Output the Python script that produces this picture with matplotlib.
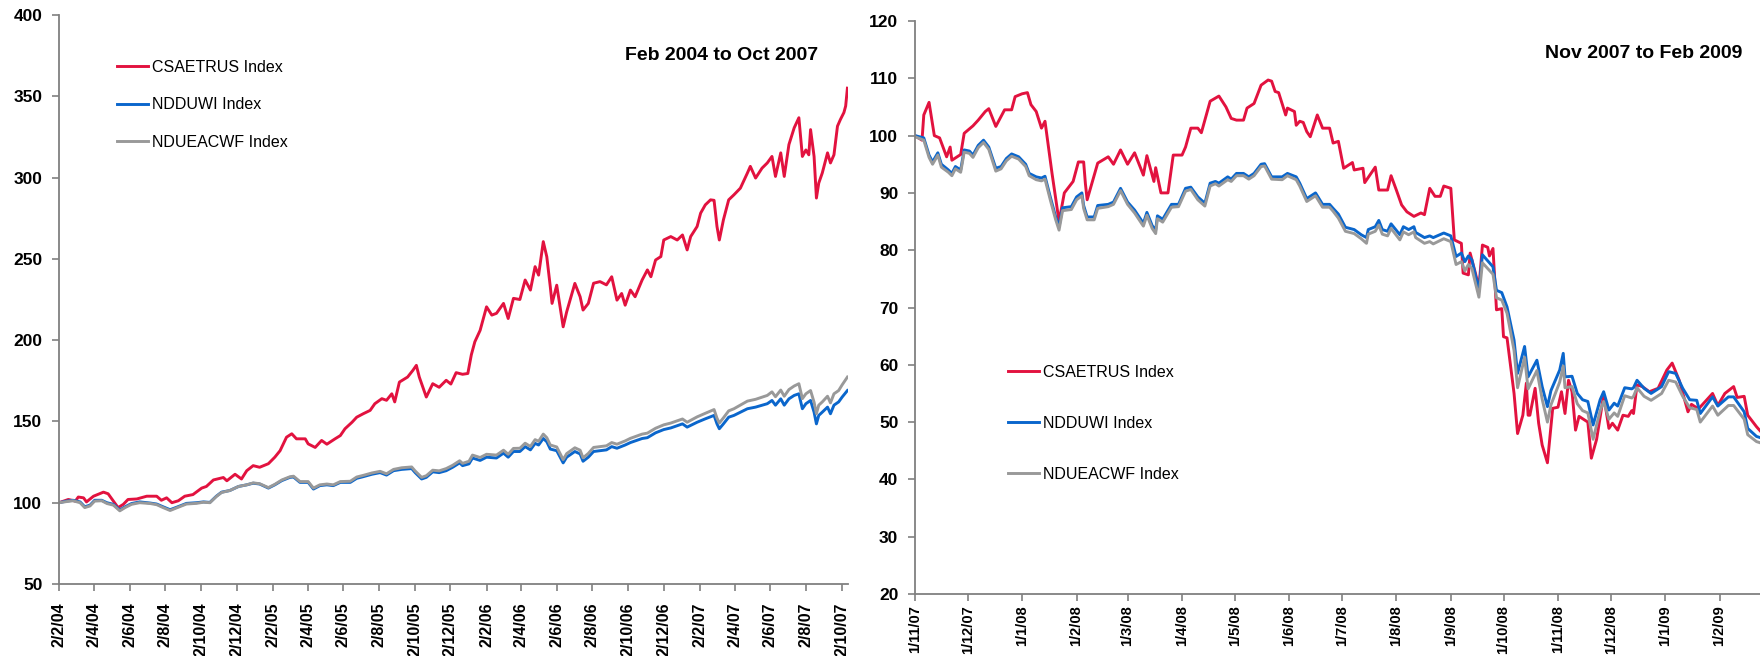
import matplotlib
matplotlib.use("Agg")
import matplotlib.pyplot as plt
import pandas as pd

plt.rcParams['font.family'] = ['Liberation Sans', 'DejaVu Sans']

# ---------------- data ----------------
series_names = ["CSAETRUS Index", "NDDUWI Index", "NDUEACWF Index"]
colors = ["#E2123F", "#0A66CC", "#999999"]

left_title = "Feb 2004 to Oct 2007"
right_title = "Nov 2007 to Feb 2009"

left_tick_labels = ["2/2/04", "2/4/04", "2/6/04", "2/8/04", "2/10/04", "2/12/04",
                    "2/2/05", "2/4/05", "2/6/05", "2/8/05", "2/10/05", "2/12/05",
                    "2/2/06", "2/4/06", "2/6/06", "2/8/06", "2/10/06", "2/12/06",
                    "2/2/07", "2/4/07", "2/6/07", "2/8/07", "2/10/07"]
right_tick_labels = ["1/11/07", "1/12/07", "1/1/08", "1/2/08", "1/3/08", "1/4/08",
                     "1/5/08", "1/6/08", "1/7/08", "1/8/08", "1/9/08", "1/10/08",
                     "1/11/08", "1/12/08", "1/1/09", "1/2/09"]
left_yticks = [50, 100, 150, 200, 250, 300, 350, 400]
right_yticks = [20, 30, 40, 50, 60, 70, 80, 90, 100, 110, 120]

# Left panel: CSAETRUS
left_red_dates = [
    "2004-02-02", "2004-02-18", "2004-03-01", "2004-03-06", "2004-03-15", "2004-03-20",
    "2004-04-01", "2004-04-18", "2004-04-26", "2004-05-05", "2004-05-13", "2004-05-22",
    "2004-05-30", "2004-06-14", "2004-07-01", "2004-07-18", "2004-07-26", "2004-08-04",
    "2004-08-13", "2004-08-24", "2004-09-04", "2004-09-18", "2004-10-03", "2004-10-11",
    "2004-10-23", "2004-11-09", "2004-11-15", "2004-11-29", "2004-12-10", "2004-12-19",
    "2004-12-30", "2005-01-10", "2005-01-25", "2005-02-05", "2005-02-14", "2005-02-25",
    "2005-03-06", "2005-03-14", "2005-03-29", "2005-04-03", "2005-04-15", "2005-04-26",
    "2005-05-05", "2005-05-19", "2005-05-28", "2005-06-05", "2005-06-17", "2005-06-25",
    "2005-07-06", "2005-07-18", "2005-07-26", "2005-08-07", "2005-08-15", "2005-08-24",
    "2005-08-29", "2005-09-06", "2005-09-20", "2005-09-29", "2005-10-05", "2005-10-10",
    "2005-10-22", "2005-11-02", "2005-11-13", "2005-11-25", "2005-12-03", "2005-12-12",
    "2005-12-23", "2006-01-01", "2006-01-07", "2006-01-13", "2006-01-22", "2006-02-02",
    "2006-02-11", "2006-02-19", "2006-03-03", "2006-03-11", "2006-03-20", "2006-03-31",
    "2006-04-09", "2006-04-18", "2006-04-26", "2006-05-02", "2006-05-10", "2006-05-16",
    "2006-05-22", "2006-05-25", "2006-06-02", "2006-06-13", "2006-06-19", "2006-07-03",
    "2006-07-12", "2006-07-17", "2006-07-26", "2006-08-04", "2006-08-15", "2006-08-26",
    "2006-09-04", "2006-09-13", "2006-09-21", "2006-09-27", "2006-10-06", "2006-10-14",
    "2006-10-26", "2006-11-04", "2006-11-10", "2006-11-18", "2006-11-27", "2006-12-02",
    "2006-12-14", "2006-12-25", "2007-01-03", "2007-01-11", "2007-01-17", "2007-01-28",
    "2007-02-03", "2007-02-11", "2007-02-20", "2007-02-26", "2007-03-03", "2007-03-07",
    "2007-03-14", "2007-03-23", "2007-04-01", "2007-04-12", "2007-04-24", "2007-04-29",
    "2007-05-08", "2007-05-19", "2007-05-28", "2007-06-05", "2007-06-11", "2007-06-20",
    "2007-06-26", "2007-07-04", "2007-07-13", "2007-07-21", "2007-07-27", "2007-08-02",
    "2007-08-07", "2007-08-10", "2007-08-16", "2007-08-20", "2007-08-24", "2007-08-30",
    "2007-09-08", "2007-09-13", "2007-09-19", "2007-09-25", "2007-09-30", "2007-10-06",
    "2007-10-09", "2007-10-12"]
left_red_values = [
    100, 102, 101, 103.5, 103, 100.5,
    104, 106.5, 105.5, 101, 97, 99,
    102, 102.3, 104, 104, 101.5, 103,
    100, 101.2, 104, 105, 109, 110,
    114, 115.5, 113.5, 117.5, 114.6, 119.7,
    122.8, 121.8, 124, 128, 132, 140.3,
    142.4, 139.3, 139.3, 136.2, 134, 138.3,
    136, 139.3, 141.3, 145.5, 149.5, 152.6,
    154.7, 156.8, 160.9, 164, 163, 167,
    162, 174.2, 177.3, 181.4, 184.5, 177.3,
    165, 173.2, 171, 175.3, 173, 180,
    179, 179.5, 191, 199, 206, 220.5,
    215.4, 216.5, 222.6, 213.3, 225.7, 225,
    237, 230.8, 245.2, 240, 260.6, 251.3,
    232.8, 222.6, 233.8, 208.2, 217.4, 234.9,
    226.7, 218.5, 222.6, 235, 236, 234,
    239, 224.6, 228.7, 221.5, 230.8, 226.7,
    237, 243.2, 239, 249.3, 251.4, 261.6,
    263.7, 261.6, 264.7, 255.5, 263.7, 269.9,
    278.1, 283.2, 286.3, 286, 269.9, 261.6,
    274, 286.3, 289.4, 293.5, 302.8, 306.9,
    299.7, 305.8, 309, 313, 300.7, 315.2,
    300.7, 320.3, 330.6, 336.8, 313, 317,
    314, 329.5, 313, 287.4, 296.6, 302.8,
    315.2, 309, 314, 331.6, 335.7, 340,
    344, 355]

# Left panel: NDDUWI and NDUEACWF (shared dates)
left_msci_dates = [
    "2004-02-02", "2004-02-15", "2004-02-26", "2004-03-09", "2004-03-17", "2004-03-26",
    "2004-04-03", "2004-04-15", "2004-04-24", "2004-05-05", "2004-05-16", "2004-05-25",
    "2004-06-05", "2004-06-19", "2004-07-07", "2004-07-18", "2004-07-29", "2004-08-10",
    "2004-08-21", "2004-09-07", "2004-09-24", "2004-10-06", "2004-10-17", "2004-10-28",
    "2004-11-06", "2004-11-20", "2004-12-05", "2004-12-19", "2004-12-30", "2005-01-10",
    "2005-01-25", "2005-02-05", "2005-02-17", "2005-03-03", "2005-03-09", "2005-03-20",
    "2005-04-03", "2005-04-12", "2005-04-23", "2005-05-05", "2005-05-16", "2005-05-28",
    "2005-06-14", "2005-06-25", "2005-07-06", "2005-07-21", "2005-08-04", "2005-08-15",
    "2005-08-27", "2005-09-10", "2005-09-27", "2005-10-03", "2005-10-14", "2005-10-22",
    "2005-11-02", "2005-11-13", "2005-11-25", "2005-12-06", "2005-12-18", "2005-12-23",
    "2006-01-03", "2006-01-09", "2006-01-22", "2006-02-02", "2006-02-19", "2006-03-03",
    "2006-03-11", "2006-03-20", "2006-03-31", "2006-04-09", "2006-04-18", "2006-04-26",
    "2006-05-02", "2006-05-10", "2006-05-16", "2006-05-22", "2006-06-02", "2006-06-13",
    "2006-06-19", "2006-07-03", "2006-07-12", "2006-07-17", "2006-07-26", "2006-08-04",
    "2006-08-26", "2006-09-04", "2006-09-13", "2006-09-27", "2006-10-06", "2006-10-26",
    "2006-11-04", "2006-11-18", "2006-12-02", "2006-12-14", "2007-01-03", "2007-01-11",
    "2007-01-28", "2007-02-11", "2007-02-26", "2007-03-03", "2007-03-07", "2007-03-14",
    "2007-03-23", "2007-04-01", "2007-04-24", "2007-05-08", "2007-05-28", "2007-06-05",
    "2007-06-11", "2007-06-20", "2007-06-26", "2007-07-04", "2007-07-13", "2007-07-21",
    "2007-07-27", "2007-08-02", "2007-08-10", "2007-08-16", "2007-08-20", "2007-08-24",
    "2007-08-30", "2007-09-08", "2007-09-13", "2007-09-19", "2007-09-27", "2007-10-03",
    "2007-10-12"]
left_blue_values = [
    100, 101, 101.5, 100.5, 97.5, 98.5,
    101.5, 101.5, 100, 99, 95.5, 97.5,
    99.5, 100.5, 99.8, 99.2, 97.5, 95.7,
    97.2, 99.6, 100, 100.5, 100.2, 104,
    106.5, 107.5, 110, 111, 112, 111.5,
    109, 111, 113.6, 115.6, 115.8, 112.5,
    112.5, 108.4, 110.5, 111, 110.5, 112.5,
    112.5, 115, 116, 117.5, 118.5, 117,
    119.7, 120.5, 121, 118.5, 114.6, 115.6,
    119, 118.5, 119.7, 121.8, 124.5, 122.8,
    123.9, 127.5, 126, 128, 127.5, 130.5,
    128, 131.5, 131.5, 134.5, 132.5, 136.5,
    135.5, 139.5, 137.5, 133, 132, 124.5,
    128, 131.5, 130, 125.5, 128, 131.5,
    132.5, 134.5, 133.5, 135.5, 137, 139.5,
    140, 143, 145, 146, 148.5, 146.5,
    149.5, 151.6, 153.7, 148.5, 145.5, 148.5,
    152.6, 153.7, 157.8, 158.8, 160.9, 162.9,
    160, 163.9, 160, 163.9, 166, 167,
    157.8, 160.9, 162.9, 155.7, 148.5, 153.7,
    155.7, 158.8, 154.7, 160, 162, 165,
    169]
left_gray_values = [
    100, 100.7, 101.2, 100, 97, 98,
    101, 101.2, 99.5, 98.5, 95, 97,
    99, 100, 99.5, 98.8, 97, 95.2,
    96.8, 99.2, 99.6, 100.3, 100, 103.8,
    106.3, 107.5, 110, 111, 112.2, 111.7,
    109.3, 111.3, 114, 116, 116.3, 113,
    113, 109, 111, 111.5, 111, 113,
    113.2, 115.8, 116.8, 118.3, 119.3, 117.8,
    120.5, 121.5, 122, 119.5, 115.6, 116.6,
    120, 119.6, 121, 123, 125.8, 124.2,
    125.5, 129.3, 127.8, 129.8, 129.3, 132.3,
    129.8, 133.4, 133.5, 136.6, 134.6, 138.8,
    137.8, 142.2, 140, 135.5, 134.3, 126.5,
    130.2, 133.8, 132.3, 127.6, 130.3, 134,
    135, 137, 136, 138, 139.6, 142.2,
    142.8, 145.8, 147.9, 149, 151.5, 149.5,
    152.8, 155, 157.3, 152, 149, 152.2,
    156.5, 157.8, 162.5, 163.6, 166, 168.2,
    165.2, 169.3, 165.5, 169.6, 171.8, 173.2,
    164, 167, 169, 161.8, 154.8, 160,
    162, 165.5, 161.4, 167, 169, 172.5,
    177.3]

# Right panel: CSAETRUS
right_red_dates = [
    "2007-11-01", "2007-11-05", "2007-11-06", "2007-11-09", "2007-11-12", "2007-11-15",
    "2007-11-19", "2007-11-21", "2007-11-22", "2007-11-27", "2007-11-29", "2007-12-04",
    "2007-12-07", "2007-12-11", "2007-12-13", "2007-12-17", "2007-12-22", "2007-12-26",
    "2007-12-28", "2008-01-01", "2008-01-04", "2008-01-06", "2008-01-09", "2008-01-12",
    "2008-01-14", "2008-01-18", "2008-01-22", "2008-01-25", "2008-01-30", "2008-02-02",
    "2008-02-05", "2008-02-06", "2008-02-07", "2008-02-13", "2008-02-19", "2008-02-22",
    "2008-02-26", "2008-03-01", "2008-03-05", "2008-03-10", "2008-03-12", "2008-03-16",
    "2008-03-17", "2008-03-20", "2008-03-24", "2008-03-27", "2008-04-01", "2008-04-03",
    "2008-04-06", "2008-04-10", "2008-04-12", "2008-04-17", "2008-04-22", "2008-04-26",
    "2008-04-29", "2008-05-02", "2008-05-06", "2008-05-08", "2008-05-12", "2008-05-16",
    "2008-05-20", "2008-05-22", "2008-05-24", "2008-05-26", "2008-05-30", "2008-05-31",
    "2008-06-04", "2008-06-05", "2008-06-07", "2008-06-09", "2008-06-11", "2008-06-13",
    "2008-06-17", "2008-06-20", "2008-06-24", "2008-06-26", "2008-06-29", "2008-07-02",
    "2008-07-07", "2008-07-08", "2008-07-13", "2008-07-14", "2008-07-20", "2008-07-22",
    "2008-07-27", "2008-07-29", "2008-08-01", "2008-08-04", "2008-08-07", "2008-08-11",
    "2008-08-15", "2008-08-17", "2008-08-20", "2008-08-23", "2008-08-26", "2008-08-28",
    "2008-09-01", "2008-09-03", "2008-09-07", "2008-09-08", "2008-09-11", "2008-09-12",
    "2008-09-15", "2008-09-17", "2008-09-19", "2008-09-22", "2008-09-23", "2008-09-25",
    "2008-09-27", "2008-09-30", "2008-10-01", "2008-10-03", "2008-10-07", "2008-10-09",
    "2008-10-12", "2008-10-14", "2008-10-15", "2008-10-16", "2008-10-19", "2008-10-21",
    "2008-10-23", "2008-10-26", "2008-10-29", "2008-11-01", "2008-11-03", "2008-11-05",
    "2008-11-07", "2008-11-09", "2008-11-11", "2008-11-13", "2008-11-18", "2008-11-20",
    "2008-11-23", "2008-11-27", "2008-11-30", "2008-12-02", "2008-12-05", "2008-12-08",
    "2008-12-11", "2008-12-13", "2008-12-14", "2008-12-16", "2008-12-19", "2008-12-23",
    "2008-12-28", "2009-01-02", "2009-01-05", "2009-01-09", "2009-01-14", "2009-01-16",
    "2009-01-20", "2009-01-28", "2009-01-31", "2009-02-04", "2009-02-09", "2009-02-11",
    "2009-02-15", "2009-02-17", "2009-02-22", "2009-02-24"]
right_red_values = [
    100, 99.2, 103.6, 105.8, 100, 99.6,
    96.3, 98, 95.7, 96.7, 100.4, 101.7,
    102.7, 104.2, 104.7, 101.6, 104.5, 104.5,
    106.8, 107.3, 107.5, 105.4, 104.2, 101.3,
    102.5, 93.4, 85, 90, 92, 95.4,
    95.4, 91.6, 88.8, 95.2, 96.3, 95,
    97.5, 95, 97, 93.1, 96.5, 92,
    94.4, 90, 90, 96.6, 96.6, 98,
    101.3, 101.3, 100.5, 106, 106.9, 105,
    103, 102.7, 102.7, 104.8, 105.6, 108.8,
    109.7, 109.5, 107.7, 107.5, 103.6, 104.8,
    104.2, 101.8, 102.5, 102.3, 100.7, 99.8,
    103.6, 101.3, 101.3, 98.7, 99, 94.3,
    95.3, 94, 94.3, 91.8, 94.5, 90.5,
    90.5, 93, 90.5, 87.9, 86.7, 85.9,
    86.5, 86.2, 90.8, 89.4, 89.4, 91.2,
    90.8, 81.8, 81.2, 76, 75.7, 79.5,
    76, 73.4, 80.9, 80.5, 79, 80.3,
    69.6, 69.8, 64.9, 64.7, 55, 48,
    51.2, 56.8, 51.2, 51.2, 55.9, 49.8,
    46, 42.9, 52.4, 52.6, 55.3, 51.5,
    57.3, 55.3, 48.6, 51, 50, 43.7,
    47, 54.7, 48.9, 49.8, 48.6, 51.2,
    51, 52, 51.5, 56.5, 56.2, 55.3,
    55.9, 59.1, 60.3, 57.3, 51.8, 53.1,
    52.3, 55, 52.9, 55, 56.2, 54.3,
    54.5, 51.2, 49.2, 48.5]

# Right panel: NDDUWI and NDUEACWF (shared dates)
right_msci_dates = [
    "2007-11-01", "2007-11-06", "2007-11-09", "2007-11-11", "2007-11-14", "2007-11-16",
    "2007-11-20", "2007-11-22", "2007-11-24", "2007-11-27", "2007-11-29", "2007-12-02",
    "2007-12-04", "2007-12-07", "2007-12-10", "2007-12-13", "2007-12-17", "2007-12-20",
    "2007-12-23", "2007-12-26", "2007-12-30", "2008-01-03", "2008-01-05", "2008-01-09",
    "2008-01-12", "2008-01-14", "2008-01-17", "2008-01-20", "2008-01-22", "2008-01-24",
    "2008-01-29", "2008-02-01", "2008-02-04", "2008-02-05", "2008-02-07", "2008-02-11",
    "2008-02-13", "2008-02-19", "2008-02-22", "2008-02-26", "2008-03-01", "2008-03-05",
    "2008-03-10", "2008-03-12", "2008-03-15", "2008-03-17", "2008-03-18", "2008-03-21",
    "2008-03-26", "2008-03-30", "2008-04-03", "2008-04-06", "2008-04-10", "2008-04-14",
    "2008-04-17", "2008-04-20", "2008-04-22", "2008-04-27", "2008-04-29", "2008-05-02",
    "2008-05-06", "2008-05-09", "2008-05-12", "2008-05-16", "2008-05-18", "2008-05-22",
    "2008-05-28", "2008-05-31", "2008-06-05", "2008-06-07", "2008-06-11", "2008-06-16",
    "2008-06-20", "2008-06-24", "2008-06-26", "2008-06-29", "2008-07-03", "2008-07-08",
    "2008-07-12", "2008-07-15", "2008-07-16", "2008-07-20", "2008-07-22", "2008-07-24",
    "2008-07-27", "2008-07-29", "2008-08-03", "2008-08-05", "2008-08-08", "2008-08-11",
    "2008-08-12", "2008-08-17", "2008-08-20", "2008-08-22", "2008-08-28", "2008-09-01",
    "2008-09-04", "2008-09-07", "2008-09-09", "2008-09-11", "2008-09-13", "2008-09-17",
    "2008-09-19", "2008-09-25", "2008-09-27", "2008-09-30", "2008-10-03", "2008-10-07",
    "2008-10-09", "2008-10-13", "2008-10-15", "2008-10-20", "2008-10-23", "2008-10-26",
    "2008-10-28", "2008-11-02", "2008-11-04", "2008-11-05", "2008-11-09", "2008-11-12",
    "2008-11-15", "2008-11-18", "2008-11-21", "2008-11-25", "2008-11-27", "2008-11-30",
    "2008-12-03", "2008-12-05", "2008-12-09", "2008-12-13", "2008-12-14", "2008-12-16",
    "2008-12-20", "2008-12-24", "2008-12-30", "2009-01-03", "2009-01-07", "2009-01-11",
    "2009-01-15", "2009-01-19", "2009-01-21", "2009-01-28", "2009-01-31", "2009-02-06",
    "2009-02-09", "2009-02-15", "2009-02-17", "2009-02-22", "2009-02-24"]
right_blue_values = [
    100, 99.6, 96.6, 95.4, 97, 95,
    94, 93.4, 94.6, 94, 97.5, 97.3,
    96.6, 98.3, 99.2, 98, 94.3, 94.6,
    96, 96.8, 96.3, 95, 93.4, 92.8,
    92.6, 92.9, 89.3, 85.9, 84.1, 87.4,
    87.6, 89.3, 90, 87.8, 85.8, 85.8,
    87.8, 88, 88.4, 90.8, 88.4, 87,
    84.7, 86.6, 84.3, 83.5, 86, 85.4,
    88, 88, 90.8, 91, 89.3, 88.2,
    91.7, 92, 91.7, 92.8, 92.4, 93.4,
    93.4, 92.8, 93.4, 95, 95.1, 92.8,
    92.8, 93.4, 92.8, 91.7, 89, 90,
    88, 88, 87.3, 86.3, 84, 83.6,
    82.7, 82.2, 83.6, 84.1, 85.2, 83.6,
    83.3, 84.6, 82.7, 84.1, 83.6, 84.1,
    83.1, 82.2, 82.5, 82.2, 83, 82.5,
    78.9, 79.5, 78, 79, 78.3, 73,
    79.2, 77.1, 73, 72.6, 70.1, 64.3,
    58.5, 63.2, 57.9, 60.8, 56.2, 52.7,
    55.5, 59.1, 62, 57.9, 58, 55,
    53.9, 53.6, 49.5, 53.9, 55.3, 52.1,
    53.3, 52.8, 56, 55.8, 56, 57.3,
    55.9, 55, 56.2, 58.8, 58.5, 55.9,
    53.9, 53.8, 51.5, 54.4, 52.8, 54.4,
    54.4, 51.8, 48.9, 47.5, 47.3]
right_gray_values = [
    99.8, 99.2, 96.2, 95, 96.6, 94.5,
    93.6, 93, 94.2, 93.6, 97.1, 96.9,
    96.2, 97.9, 98.8, 97.6, 93.8, 94.2,
    95.6, 96.4, 95.9, 94.6, 93, 92.3,
    92.1, 92.4, 88.8, 85.4, 83.5, 86.9,
    87.1, 88.8, 89.5, 87.3, 85.3, 85.3,
    87.3, 87.6, 88, 90.4, 88, 86.5,
    84.2, 86.1, 83.8, 82.9, 85.5, 84.9,
    87.5, 87.6, 90.3, 90.6, 88.8, 87.7,
    91.2, 91.6, 91.2, 92.3, 92, 93,
    93, 92.4, 93, 94.6, 94.7, 92.4,
    92.3, 93, 92.3, 91.2, 88.5, 89.5,
    87.5, 87.5, 86.8, 85.6, 83.3, 82.9,
    82, 81.2, 82.8, 83.3, 84.4, 82.8,
    82.5, 83.8, 81.8, 83.2, 82.7, 83.2,
    82.2, 81.2, 81.5, 81.1, 82, 81.5,
    77.5, 78, 76.4, 77.5, 76.8, 71.8,
    77.8, 75.8, 71.7, 71.3, 69, 62.5,
    56, 61.3, 55.8, 59, 54, 50,
    53, 57, 59.8, 56, 56.2, 53.2,
    52, 51.6, 47, 52, 53.6, 50.5,
    51.6, 51, 54.6, 54.2, 54.5, 56,
    54.5, 53.8, 55, 57.3, 57, 54.5,
    52.5, 52.2, 50, 52.8, 51.2, 52.9,
    52.9, 50.5, 47.8, 46.6, 46.4]

# ---------------- figure ----------------
fig = plt.figure(figsize=(17.6, 6.56), dpi=100)
axL = fig.add_axes([59 / 1760, 1 - 584 / 656, (848 - 59) / 1760, (584 - 15) / 656])
axR = fig.add_axes([915 / 1760, 1 - 594 / 656, (1760 - 915) / 1760, (594 - 21) / 656])

spine_col = "#808080"


def style_axes(ax, tick_labels, yticks, xlim, xpad, xsize):
    for s in ["top", "right"]:
        ax.spines[s].set_visible(False)
    for s in ["left", "bottom"]:
        ax.spines[s].set_color(spine_col)
        ax.spines[s].set_linewidth(1.3)
    tick_pos = pd.to_datetime(tick_labels, format="%d/%m/%y")
    ax.set_xticks(tick_pos)
    ax.set_xticklabels(tick_labels, rotation=90, fontsize=xsize, fontweight="bold")
    ax.set_yticks(yticks)
    ax.set_yticklabels([str(v) for v in yticks], fontsize=12.5, fontweight="bold")
    ax.set_ylim(yticks[0], yticks[-1])
    ax.set_xlim(pd.Timestamp(xlim[0]), pd.Timestamp(xlim[1]))
    ax.tick_params(axis="both", direction="out", length=5, width=1.2, color=spine_col)
    ax.tick_params(axis="y", pad=7)
    ax.tick_params(axis="x", pad=xpad)


def draw(ax, red_d, red_v, m_d, blue_v, gray_v):
    h1, = ax.plot(pd.to_datetime(red_d), red_v, color=colors[0], lw=2.1, label=series_names[0])
    h2, = ax.plot(pd.to_datetime(m_d), blue_v, color=colors[1], lw=2.1, label=series_names[1])
    h3, = ax.plot(pd.to_datetime(m_d), gray_v, color=colors[2], lw=2.1, label=series_names[2])
    return [h1, h2, h3]


hL = draw(axL, left_red_dates, left_red_values, left_msci_dates, left_blue_values, left_gray_values)
hR = draw(axR, right_red_dates, right_red_values, right_msci_dates, right_blue_values, right_gray_values)

style_axes(axL, left_tick_labels, left_yticks, ("2004-02-02", "2007-10-13"), 8, 11.5)
style_axes(axR, right_tick_labels, right_yticks, ("2007-11-01", "2009-02-24"), 3, 10.5)

axL.legend(handles=hL, loc="center left", bbox_to_anchor=(0.0735, 0.842), frameon=False,
           fontsize=11.5, handlelength=1.95, handletextpad=0.25, labelspacing=1.4,
           borderpad=0, borderaxespad=0)
axR.legend(handles=hR, loc="center left", bbox_to_anchor=(0.110, 0.298), frameon=False,
           fontsize=11.5, handlelength=1.95, handletextpad=0.25, labelspacing=2.25,
           borderpad=0, borderaxespad=0)

axL.text(818 / 1760, 1 - 55 / 656, left_title, transform=fig.transFigure, ha="right",
         va="center", fontsize=14, fontweight="bold")
axR.text(1742 / 1760, 1 - 53 / 656, right_title, transform=fig.transFigure, ha="right",
         va="center", fontsize=14, fontweight="bold")

fig.savefig("out.png", dpi=100)
